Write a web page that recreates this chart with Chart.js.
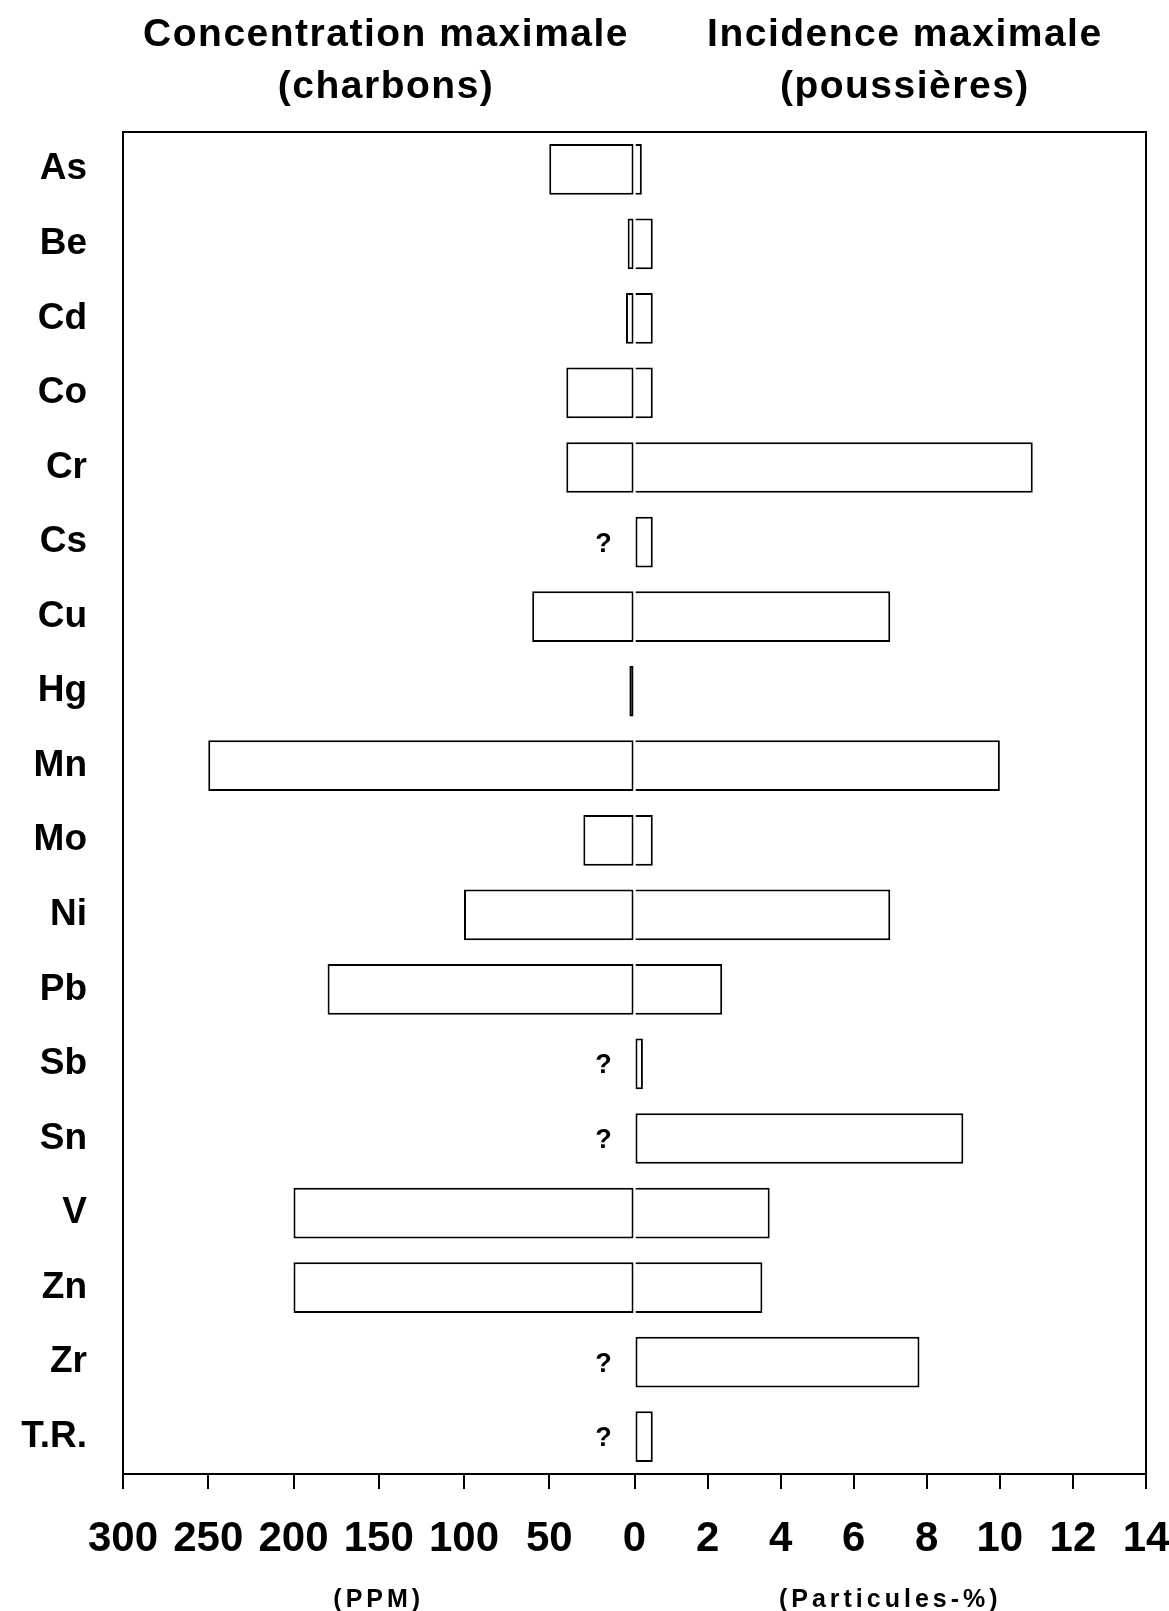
<!DOCTYPE html>
<html>
<head>
<meta charset="utf-8">
<script src="https://cdn.jsdelivr.net/npm/chart.js@4.4.1/dist/chart.umd.min.js"></script>
<style>
  html, body { margin: 0; padding: 0; background: #fff; }
  canvas { display: block; }
</style>
</head>
<body>
<canvas id="myChart" width="1169" height="1611"></canvas>
<script>
let categories = ['As', 'Be', 'Cd', 'Co', 'Cr', 'Cs', 'Cu', 'Hg', 'Mn', 'Mo', 'Ni', 'Pb', 'Sb', 'Sn', 'V', 'Zn', 'Zr', 'T.R.'];
// concentration maximale dans les charbons (PPM), null = inconnu (?)
let ppmValues = [50, 4, 5, 40, 40, null, 60, 3, 250, 30, 100, 180, null, null, 200, 200, null, null];
// incidence maximale dans les poussieres (particules-%)
let pctValues = [0.2, 0.5, 0.5, 0.5, 10.9, 0.5, 7.0, null, 10.0, 0.5, 7.0, 2.4, 0.23, 9.0, 3.7, 3.5, 7.8, 0.5];
let ppmTicks = [300, 250, 200, 150, 100, 50];
let pctTicks = [0, 2, 4, 6, 8, 10, 12, 14];

// the left half (0-300 ppm) and right half (0-14 %) share one axis
let ppmToAxis = 14 / 300;

let leftData = ppmValues.map(v => v === null ? null : -v * ppmToAxis);
let unknown = ppmValues.map(v => v === null);

let font = '"Liberation Sans", Arial, Helvetica, sans-serif';

let frame = {
    id: 'frame',
    afterDraw(chart) {
        let ctx = chart.ctx;
        let a = chart.chartArea;
        let x = chart.scales.x;
        let y = chart.scales.y;
        ctx.save();
        ctx.strokeStyle = '#000';
        ctx.lineWidth = 2;
        ctx.strokeRect(a.left, a.top, a.right - a.left, a.bottom - a.top);

        ctx.fillStyle = '#000';
        ctx.textAlign = 'center';
        ctx.textBaseline = 'middle';

        // "?" for unknown concentrations
        ctx.font = 'bold 27px ' + font;
        unknown.forEach((u, i) => {
            if (u) ctx.fillText('?', x.getPixelForValue(-0.85), y.getPixelForValue(i) + 2);
        });

        // headers
        ctx.font = 'bold 39px ' + font;
        ctx.letterSpacing = '1.5px';
        ctx.fillText('Concentration maximale', x.getPixelForValue(-6.8), 35);
        ctx.fillText('(charbons)', x.getPixelForValue(-6.8), 87);
        ctx.fillText('Incidence maximale', x.getPixelForValue(7.4), 35);
        ctx.fillText('(poussières)', x.getPixelForValue(7.4), 87);

        // unit labels
        ctx.font = 'bold 25px ' + font;
        ctx.letterSpacing = '4px';
        ctx.fillText('(PPM)', x.getPixelForValue(-7), 1600);
        ctx.fillText('(Particules-%)', x.getPixelForValue(7), 1600);
        ctx.restore();
    }
};

let myChart = document.getElementById('myChart').getContext('2d');

let chart = new Chart(myChart, {
    type: 'bar',
    data: {
        labels: categories,
        datasets: [
            {
                label: 'Concentration maximale (charbons)',
                data: leftData,
                backgroundColor: '#fff',
                borderColor: '#000',
                borderWidth: 2,
                borderSkipped: false,
                inflateAmount: 0,
                categoryPercentage: 0.68,
                barPercentage: 1
            },
            {
                label: 'Incidence maximale (poussières)',
                data: pctValues,
                backgroundColor: '#fff',
                borderColor: '#000',
                borderWidth: 2,
                borderSkipped: c => leftData[c.dataIndex] !== null ? 'start' : false,
                inflateAmount: 0,
                categoryPercentage: 0.68,
                barPercentage: 1
            }
        ]
    },
    options: {
        indexAxis: 'y',
        responsive: false,
        animation: false,
        devicePixelRatio: 1,
        layout: { padding: { left: 0, top: 132, right: 0, bottom: 0 } },
        plugins: {
            legend: { display: false },
            tooltip: { enabled: false },
            title: { display: false }
        },
        scales: {
            x: {
                type: 'linear',
                stacked: true,
                min: -300 * ppmToAxis,
                max: 14,
                afterBuildTicks(scale) {
                    let vals = ppmTicks.map(v => -v * ppmToAxis).concat(pctTicks);
                    scale.ticks = vals.map(v => ({ value: v }));
                },
                afterFit(scale) {
                    scale.height = 137;
                    scale.paddingLeft = 0;
                    scale.paddingRight = 23;
                },
                grid: {
                    drawOnChartArea: false,
                    drawTicks: true,
                    tickLength: 15,
                    color: '#000',
                    lineWidth: 2
                },
                border: { display: true, color: '#000', width: 2 },
                ticks: {
                    autoSkip: false,
                    maxRotation: 0,
                    padding: 25,
                    color: '#000',
                    font: { family: font, size: 42, weight: 'bold' },
                    callback: v => v < 0 ? String(Math.round(-v / ppmToAxis)) : String(v)
                }
            },
            y: {
                type: 'category',
                stacked: true,
                offset: true,
                afterFit(scale) { scale.width = 123; },
                grid: { display: false, drawTicks: false },
                border: { display: true, color: '#000', width: 2 },
                ticks: {
                    padding: 36,
                    color: '#000',
                    font: { family: font, size: 37, weight: 'bold' }
                }
            }
        }
    },
    plugins: [frame]
});
</script>
</body>
</html>
